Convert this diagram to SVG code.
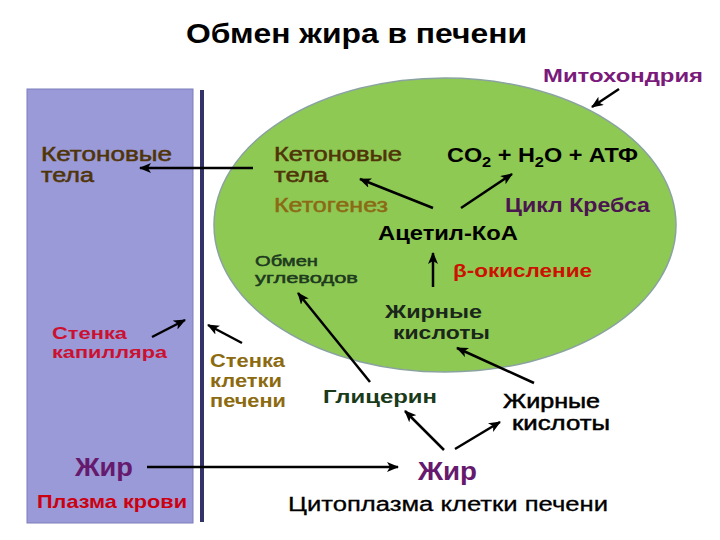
<svg xmlns="http://www.w3.org/2000/svg" width="720" height="540" viewBox="0 0 720 540">
<style>
text{font-family:"Liberation Sans",Arial,sans-serif;}
.b{font-weight:bold;}
.m{stroke-width:0.5;}
.ln{stroke:#000;stroke-width:2.5;fill:none;marker-end:url(#ah);}
</style>
<defs>
<marker id="ah" markerUnits="userSpaceOnUse" markerWidth="12" markerHeight="10" refX="11" refY="5" orient="auto">
<path d="M0,0 L12,5 L0,10 L3,5 z" fill="#000"/>
</marker>
</defs>
<rect width="720" height="540" fill="#fff"/>
<g id="plasma">
<rect x="27" y="89" width="166" height="434" fill="#9a9ad8" stroke="#7c7cbc" stroke-width="1"/>
</g>
<g id="cell-wall">
<rect x="200" y="90" width="4" height="432" fill="#33336a"/>
</g>
<g id="mitochondrion">
<ellipse cx="445" cy="225" rx="231" ry="147" fill="#8ec954" stroke="#8aa3a0" stroke-width="1.5"/>
</g>
<g id="title"><text x="186" y="43" class="b" font-size="27" textLength="341" lengthAdjust="spacingAndGlyphs">Обмен жира в печени</text></g>
<g id="mito-label"><text x="543" y="82" class="b" font-size="19" fill="#7a1a7a" textLength="160" lengthAdjust="spacingAndGlyphs">Митохондрия</text></g>
<g id="ketone-left" fill="#4f3408" stroke="#4f3408" class="m" font-size="19.5">
<text x="41" y="161" textLength="131" lengthAdjust="spacingAndGlyphs">Кетоновые</text>
<text x="41" y="182" textLength="53" lengthAdjust="spacingAndGlyphs">тела</text>
</g>
<g id="ketone-in" fill="#4f3408" stroke="#4f3408" class="m" font-size="19.5">
<text x="274" y="161" textLength="128" lengthAdjust="spacingAndGlyphs">Кетоновые</text>
<text x="274" y="182" textLength="54" lengthAdjust="spacingAndGlyphs">тела</text>
</g>
<g id="ketogenesis"><text x="274" y="212" font-size="20" fill="#8b6a14" stroke="#8b6a14" class="m" textLength="114" lengthAdjust="spacingAndGlyphs">Кетогенез</text></g>
<g id="products"><text x="447" y="162" class="b" font-size="20" textLength="191" lengthAdjust="spacingAndGlyphs">CO<tspan font-size="14" dy="5">2</tspan><tspan dy="-5"> + H</tspan><tspan font-size="14" dy="5">2</tspan><tspan dy="-5">O + АТФ</tspan></text></g>
<g id="krebs"><text x="505" y="212" class="b" font-size="20" fill="#4b1650" textLength="145" lengthAdjust="spacingAndGlyphs">Цикл Кребса</text></g>
<g id="acetyl"><text x="378" y="240" class="b" font-size="20" textLength="140" lengthAdjust="spacingAndGlyphs">Ацетил-КоА</text></g>
<g id="carb" fill="#1e3a1e" stroke="#1e3a1e" class="m" font-size="15">
<text x="255" y="266" textLength="63" lengthAdjust="spacingAndGlyphs">Обмен</text>
<text x="255" y="283" textLength="103" lengthAdjust="spacingAndGlyphs">углеводов</text>
</g>
<g id="beta"><text x="453" y="277" class="b" font-size="18" fill="#cc1100" textLength="139" lengthAdjust="spacingAndGlyphs">β-окисление</text></g>
<g id="fa-in" class="b" font-size="19" fill="#1a261a">
<text x="385" y="318" textLength="97" lengthAdjust="spacingAndGlyphs">Жирные</text>
<text x="393" y="339" textLength="97" lengthAdjust="spacingAndGlyphs">кислоты</text>
</g>
<g id="glycerol"><text x="323" y="403" class="b" font-size="19" fill="#1a3a1a" textLength="114" lengthAdjust="spacingAndGlyphs">Глицерин</text></g>
<g id="fa-out" font-size="19.5" stroke="#000" class="m">
<text x="503" y="408" textLength="97" lengthAdjust="spacingAndGlyphs">Жирные</text>
<text x="512" y="430" textLength="98" lengthAdjust="spacingAndGlyphs">кислоты</text>
</g>
<g id="fat-cell"><text x="418" y="480" class="b" font-size="25" fill="#661a6e" textLength="59" lengthAdjust="spacingAndGlyphs">Жир</text></g>
<g id="cytoplasm"><text x="288" y="511" font-size="20" stroke="#000" stroke-width="0.3" textLength="320" lengthAdjust="spacingAndGlyphs">Цитоплазма клетки печени</text></g>
<g id="fat-plasma"><text x="75" y="476" class="b" font-size="25" fill="#661a6e" textLength="58" lengthAdjust="spacingAndGlyphs">Жир</text></g>
<g id="plasma-label"><text x="37" y="508" class="b" font-size="19" fill="#cc0010" textLength="150" lengthAdjust="spacingAndGlyphs">Плазма крови</text></g>
<g id="capillary-wall" class="b" font-size="17" fill="#cc1030">
<text x="52" y="339" textLength="75" lengthAdjust="spacingAndGlyphs">Стенка</text>
<text x="52" y="358" textLength="115" lengthAdjust="spacingAndGlyphs">капилляра</text>
</g>
<g id="liver-wall" class="b" font-size="18" fill="#8c6a10">
<text x="210" y="367" textLength="75" lengthAdjust="spacingAndGlyphs">Стенка</text>
<text x="210" y="387" textLength="72" lengthAdjust="spacingAndGlyphs">клетки</text>
<text x="210" y="407" textLength="76" lengthAdjust="spacingAndGlyphs">печени</text>
</g>
<g id="connectors">
<line class="ln" x1="619" y1="89" x2="592" y2="107"/>
<line class="ln" x1="253" y1="168" x2="140" y2="168"/>
<line class="ln" x1="433" y1="208" x2="360" y2="179"/>
<line class="ln" x1="461" y1="208" x2="512" y2="174"/>
<line class="ln" x1="433" y1="287" x2="433" y2="253"/>
<line class="ln" x1="370" y1="382" x2="298" y2="293"/>
<line class="ln" x1="534" y1="383" x2="457" y2="348"/>
<line class="ln" x1="444" y1="450" x2="405" y2="411"/>
<line class="ln" x1="455" y1="449" x2="500" y2="422"/>
<line class="ln" x1="147" y1="467" x2="398" y2="467" stroke-width="2"/>
<line class="ln" x1="152" y1="337" x2="185" y2="320"/>
<line class="ln" x1="242" y1="343" x2="208" y2="325"/>
</g>
</svg>
